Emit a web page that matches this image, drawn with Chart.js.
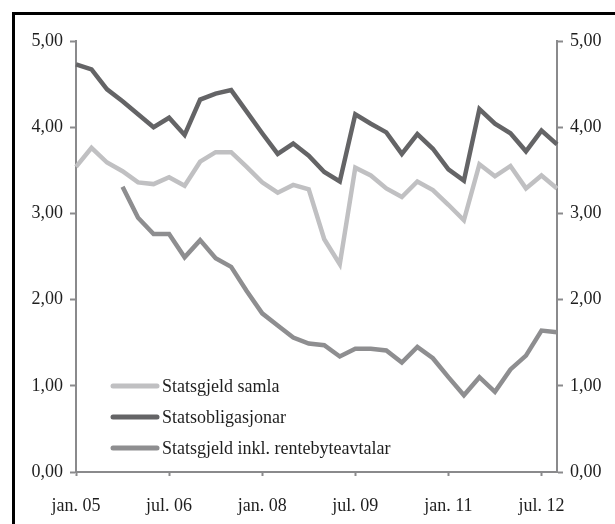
<!DOCTYPE html>
<html>
<head>
<meta charset="utf-8">
<script src="https://cdn.jsdelivr.net/npm/chart.js@4"></script>
<style>
html,body{margin:0;padding:0;background:#fff;}
#wrap{width:615px;height:524px;position:relative;}
</style>
</head>
<body>
<div id="wrap"><canvas id="c" width="615" height="524"></canvas></div>
<script>
const categories = [
  'jan. 05','apr. 05','jul. 05','okt. 05',
  'jan. 06','apr. 06','jul. 06','okt. 06',
  'jan. 07','apr. 07','jul. 07','okt. 07',
  'jan. 08','apr. 08','jul. 08','okt. 08',
  'jan. 09','apr. 09','jul. 09','okt. 09',
  'jan. 10','apr. 10','jul. 10','okt. 10',
  'jan. 11','apr. 11','jul. 11','okt. 11',
  'jan. 12','apr. 12','jul. 12','okt. 12'
];
const statsgjeldSamla = [
  3.54,3.76,3.59,3.49,3.36,3.34,3.42,3.32,
  3.60,3.71,3.71,3.54,3.36,3.24,3.33,3.28,
  2.70,2.41,3.53,3.44,3.29,3.19,3.37,3.27,
  3.10,2.92,3.57,3.43,3.55,3.29,3.44,3.29
];
const statsobligasjonar = [
  4.73,4.67,4.44,4.30,4.15,4.00,4.11,3.91,
  4.32,4.39,4.43,4.18,3.93,3.69,3.81,3.67,
  3.48,3.37,4.15,4.04,3.94,3.69,3.92,3.75,
  3.51,3.38,4.21,4.04,3.93,3.72,3.96,3.80
];
const statsgjeldInkl = [
  null,null,null,3.31,2.95,2.76,2.76,2.49,
  2.69,2.48,2.38,2.10,1.84,1.70,1.56,1.49,
  1.47,1.34,1.43,1.43,1.41,1.27,1.45,1.32,
  1.10,0.89,1.10,0.93,1.19,1.35,1.64,1.62
];
const seriesNames = ['Statsgjeld samla','Statsobligasjonar','Statsgjeld inkl. rentebyteavtalar'];
const yTicks = [0,1,2,3,4,5];

const FONT = 'Liberation Serif';
const AXIS = '#8a8a8c';
const TEXT = '#1e1e1e';

const framePlugin = {
  id: 'frame',
  afterDraw(chart) {
    const ctx = chart.ctx;
    ctx.save();
    ctx.strokeStyle = '#000';
    ctx.lineWidth = 3;
    ctx.strokeRect(13.5, 13.5, 700, 700);
    ctx.restore();
  }
};

const legendPlugin = {
  id: 'innerLegend',
  afterDatasetsDraw(chart) {
    const ctx = chart.ctx;
    const area = chart.chartArea;
    ctx.save();
    ctx.font = '18px "' + FONT + '"';
    ctx.textBaseline = 'middle';
    ctx.textAlign = 'left';
    chart.data.datasets.forEach((ds, i) => {
      const y = 386 + i * 31;
      const x0 = area.left + 37;
      ctx.strokeStyle = ds.borderColor;
      ctx.lineWidth = 5;
      ctx.lineCap = 'round';
      ctx.beginPath();
      ctx.moveTo(x0, y);
      ctx.lineTo(x0 + 44, y);
      ctx.stroke();
      ctx.fillStyle = TEXT;
      ctx.fillText(ds.label, x0 + 49, y + 1);
    });
    ctx.restore();
  }
};

const yScale = (pos) => ({
  type: 'linear',
  position: pos,
  min: 0, max: 5,
  afterBuildTicks(scale) { scale.ticks = yTicks.map(v => ({value: v})); },
  afterFit(scale) { scale.width = pos === 'left' ? 76 : 58; },
  grid: { drawOnChartArea: false, drawTicks: true, tickLength: 6, tickColor: AXIS, tickWidth: 2 },
  border: { display: true, color: AXIS, width: 2 },
  ticks: {
    padding: 7,
    color: TEXT,
    font: { family: FONT, size: 18 },
    callback: (v) => Number(v).toFixed(2).replace('.', ',')
  }
});

new Chart(document.getElementById('c'), {
  type: 'line',
  data: {
    labels: categories,
    datasets: [
      { label: seriesNames[0], data: statsgjeldSamla, borderColor: '#c0c0c2', yAxisID: 'y' },
      { label: seriesNames[1], data: statsobligasjonar, borderColor: '#646466', yAxisID: 'y' },
      { label: seriesNames[2], data: statsgjeldInkl, borderColor: '#8e8e90', yAxisID: 'y' }
    ]
  },
  options: {
    responsive: false,
    animation: false,
    devicePixelRatio: 1,
    layout: { padding: { top: 41, left: 0, right: 0, bottom: 0 } },
    elements: {
      line: { borderWidth: 4.5, tension: 0, borderJoinStyle: 'miter', borderCapStyle: 'butt', fill: false },
      point: { radius: 0, hoverRadius: 0 }
    },
    plugins: { legend: { display: false }, tooltip: { enabled: false } },
    scales: {
      x: {
        type: 'category',
        offset: false,
        afterFit(scale) { scale.height = 52; },
        grid: {
          drawOnChartArea: false, drawTicks: true, tickLength: 4, tickWidth: 2,
          tickColor: (c) => (c.index % 6 === 0 ? AXIS : 'rgba(0,0,0,0)')
        },
        border: { display: true, color: AXIS, width: 2 },
        ticks: {
          autoSkip: false, maxRotation: 0, minRotation: 0, padding: 19,
          color: TEXT,
          font: { family: FONT, size: 18 },
          callback: (v, i) => (i % 6 === 0 ? categories[i] : '')
        }
      },
      y: yScale('left'),
      y2: yScale('right')
    }
  },
  plugins: [framePlugin, legendPlugin]
});
</script>
</body>
</html>
